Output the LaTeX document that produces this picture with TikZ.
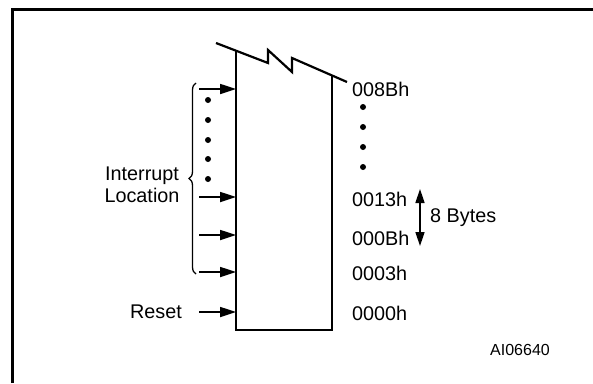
\documentclass[tikz,border=0pt]{standalone}
\usepackage{fontspec}
\setmainfont{Liberation Sans}
\usetikzlibrary{arrows.meta,decorations.pathreplacing}
\begin{document}
\begin{tikzpicture}[x=1pt,y=-1pt,
  frame/.style={line width=2.4pt},
  body/.style={line width=2.2pt, line join=miter},
  inarrow/.style={line width=1.7pt,-{Triangle[length=16pt,width=10pt]}},
  dot/.style={circle,fill=black,inner sep=0pt,minimum size=6pt},
  lbl/.style={font=\fontsize{19.8}{23}\selectfont, inner sep=0pt},
  addr/.style={lbl, anchor=west},
]
\useasboundingbox (0,0) rectangle (593,383);
% frame
\draw[frame] (12.5,383) -- (12.5,9.5) -- (593,9.5);
% memory block with break
\draw[body] (216,43) -- (268,63) -- (268,50) -- (292,72) -- (292,58) -- (347,82);
\coordinate (tl) at (236,50.5);
\coordinate (tr) at (332,75.5);
\coordinate (bl) at (236,330);
\coordinate (br) at (332,330);
\draw[body] (tl) -- (bl) -- (br) -- (tr);
% input arrows
\foreach \n/\y in {a/89,b/197,c/235,d/272,r/312}{
  \coordinate (s\n) at (199,\y);
  \coordinate (e\n) at (236,\y);
  \draw[inarrow] (s\n) -- (e\n);
}
% left dots
\foreach \y [count=\i] in {100,120,140,159,179}{
  \node[dot] (ld\i) at (208,\y) {};
}
% brace
\coordinate (bb) at (196,274);
\coordinate (bt) at (196,83);
\draw[line width=1.3pt, decorate, decoration={brace, amplitude=7pt}] (bb) -- (bt);
\node[lbl, align=center] (intloc) at (142,184.5) {Interrupt\\[-1pt]Location};
\node[lbl, anchor=east] (reset) at (182,312) {Reset};
% right labels
\node[addr] (a8b) at (352,89) {008Bh};
\foreach \y [count=\i] in {107,127,147,167}{
  \node[dot] (rd\i) at (363,\y) {};
}
\node[addr] (a13) at (352,199) {0013h};
\node[addr] (a0b) at (352,238) {000Bh};
\node[addr] (a03) at (352,273) {0003h};
\node[addr] (a00) at (352,313) {0000h};
% 8 bytes
\coordinate (bu) at (420,189);
\coordinate (bd) at (420,246);
\draw[line width=1.6pt, {Triangle[length=14pt,width=9pt]}-{Triangle[length=14pt,width=9pt]}] (bu) -- (bd);
\node[addr] (bytes) at (430,218) {8 Bytes};
\node[lbl, font=\fontsize{16}{19}\selectfont] (code) at (520,350) {AI06640};
\end{tikzpicture}
\end{document}
